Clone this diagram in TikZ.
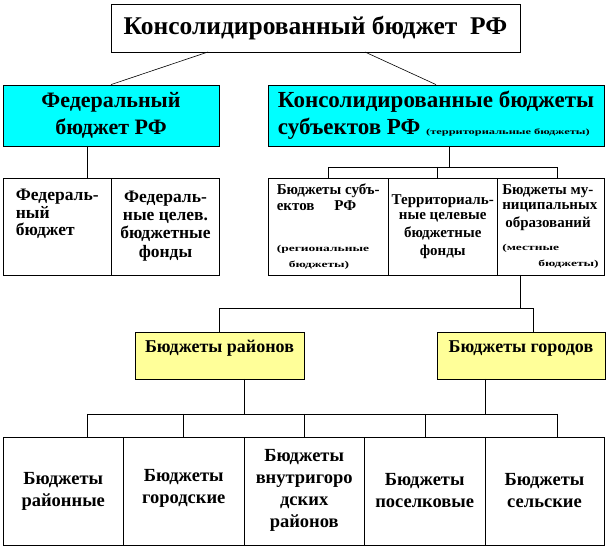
\documentclass[tikz,border=0pt]{standalone}
\usepackage{fontspec}
\usepackage{graphicx}
\setmainfont{Liberation Serif}
\definecolor{brightcyan}{RGB}{0,255,255}
\definecolor{paleyellow}{RGB}{255,255,153}
\newcommand{\widenote}[3]{\scalebox{#1}[1]{\fontsize{#2}{#2}\selectfont #3}}
\begin{document}
\begin{tikzpicture}[x=1pt,y=-1pt,
        box/.style={draw, line width=0.8pt, inner sep=0pt, font=\bfseries, align=center},
        cyanbox/.style={box, fill=brightcyan},
        yellowbox/.style={box, fill=paleyellow, minimum width=168, minimum height=47,
            text height=21, text depth=26, font=\bfseries\fontsize{18}{20}\selectfont},
        subbox/.style={box, minimum height=97, font=\bfseries\fontsize{15}{15.5}\selectfont},
        lowbox/.style={box, minimum height=108, font=\bfseries\fontsize{18.5}{22}\selectfont},
        wire/.style={line width=0.6pt}]
    \useasboundingbox (0,0) rectangle (606,548);
    \node[box, minimum width=409, minimum height=48, font=\bfseries\fontsize{25.5}{30}\selectfont] (top) at (315.5,28) {Консолидированный бюджет\ \ РФ};
    \node[cyanbox, minimum width=216, minimum height=61, font=\bfseries\fontsize{22}{27}\selectfont] (fed) at (111,115.5) {Федеральный\\бюджет РФ};
    \node[cyanbox, minimum width=336, minimum height=61, align=left, font=\bfseries\fontsize{23}{27}\selectfont] (cons) at (436,115.5) {Консолидированные бюджеты\\субъектов РФ \widenote{1.55}{8}{(территориальные бюджеты)}};
    \node[subbox, minimum width=108.5, align=left, font=\bfseries\fontsize{17.5}{17.5}\selectfont] (f1) at (57.25,226.5) {Федераль-\\ный\\бюджет\\[10pt]\mbox{}};
    \node[subbox, minimum width=108, font=\bfseries\fontsize{17.5}{18}\selectfont] (f2) at (165.5,226.5) {Федераль-\\ные целев.\\бюджетные\\[1pt]фонды};
    \node[subbox, minimum width=120.5, align=left] (r1) at (328.25,226.5) {Бюджеты субъ-\\ектов\hspace{20pt}РФ\\[26pt]\widenote{1.5}{9}{(региональные}\\\hspace*{12pt}\widenote{1.5}{9}{бюджеты)}};
    \node[subbox, minimum width=108.5] (r2) at (442.75,226.5) {Территориаль-\\ные целевые\\[2pt]бюджетные\\[3pt]фонды};
    \node[subbox, minimum width=107, align=left] (r3) at (550.5,226.5) {Бюджеты му-\\ниципальных\\[2pt]\hspace*{3pt}образований\\[8pt]\widenote{1.5}{9}{(местные}\\\hspace*{36pt}\widenote{1.5}{9}{бюджеты)}};
    \node[yellowbox, minimum width=169] (yr) at (219.5,355.5) {Бюджеты районов};
    \node[yellowbox] (yc) at (521,355.5) {Бюджеты городов};
    \node[lowbox, minimum width=120.5] (b1) at (63.25,491) {Бюджеты\\районные};
    \node[lowbox, minimum width=120.5] (b2) at (183.75,491) {Бюджеты\\городские\\[-12pt]\mbox{}};
    \node[lowbox, minimum width=120.4] (b3) at (304.2,491) {Бюджеты\\внутригоро\\дских\\районов\\[-16pt]\mbox{}};
    \node[lowbox, minimum width=120.6] (b4) at (424.7,491) {Бюджеты\\поселковые};
    \node[lowbox, minimum width=119] (b5) at (544.5,491) {Бюджеты\\сельские};
    \coordinate (t1) at (208,52);
    \coordinate (t2) at (365,52);
    \coordinate (fs) at (87,146);
    \coordinate (cs) at (449,146);
    \coordinate (cj) at (449,167);
    \coordinate (c2) at (437,167);
    \coordinate (c3) at (557.5,167);
    \coordinate (ms) at (520.6,275);
    \coordinate (mj) at (520.6,308);
    \coordinate (m2) at (533,308);
    \coordinate (ys) at (244,379);
    \coordinate (cs2) at (485,379);
    \draw[wire] (t1) -- (fed.north);
    \draw[wire] (t2) -- (cons.north);
    \draw[wire] (fs) -- (fs |- f1.north);
    \draw[wire] (cs) -- (cj);
    \draw[wire] (r1.north) |- (c3) -- (c3 |- r3.north);
    \draw[wire] (c2) -- (c2 |- r2.north);
    \draw[wire] (ms) -- (mj);
    \draw[wire] (yr.north) |- (m2) -- (m2 |- yc.north);
    \foreach \x [count=\i] in {87,183,304,425,557.5} {
        \coordinate (d\i) at (\x,414);
        \draw[wire] (d\i) -- (d\i |- b1.north);
    }
    \draw[wire] (d1) -- (d5);
    \draw[wire] (ys) -- (ys |- d1);
    \draw[wire] (cs2) -- (cs2 |- d1);
\end{tikzpicture}
\end{document}
